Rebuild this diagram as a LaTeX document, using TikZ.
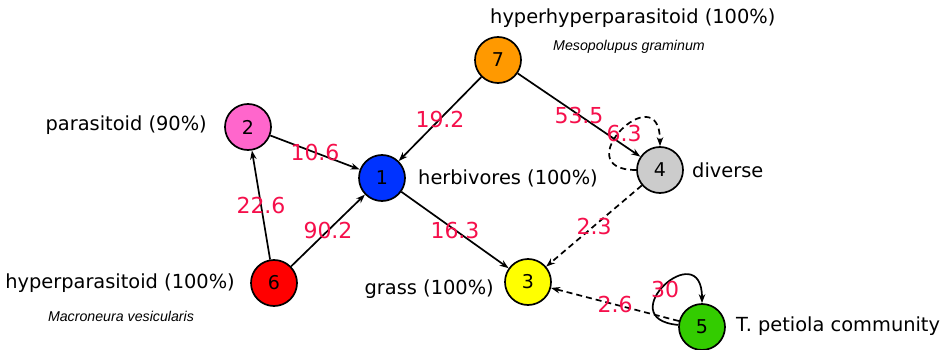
\documentclass[tikz,border=0pt]{standalone}
\usepackage{fontspec}
\setmainfont{DejaVu Sans}
\newfontfamily\latinname{Liberation Sans}
\usetikzlibrary{arrows.meta}
\definecolor{herbblue}{RGB}{0,51,255}
\definecolor{parapink}{RGB}{255,102,204}
\definecolor{grassyellow}{RGB}{255,255,0}
\definecolor{diversegray}{RGB}{204,204,204}
\definecolor{petiolagreen}{RGB}{51,204,0}
\definecolor{hyperred}{RGB}{255,0,0}
\definecolor{hhorange}{RGB}{255,153,0}
\definecolor{wtred}{RGB}{245,15,75}
\begin{document}
\begin{tikzpicture}[x=1pt, y=1pt,
  sp/.style={circle, draw=black, line width=1.7pt, minimum size=46pt, inner sep=0pt, font=\fontsize{19}{20}\selectfont},
  spname/.style={font=\fontsize{19.4}{21}\selectfont, inner sep=0pt},
  latin/.style={font=\latinname\itshape\fontsize{14.2}{16}\selectfont, inner sep=0pt},
  wt/.style={text=wtred, font=\fontsize{22}{24}\selectfont, inner sep=0pt},
  link/.style={line width=1.7pt, -{Stealth[length=9pt, width=6.5pt]}},
  weak/.style={link, dash pattern=on 6pt off 4pt}]
\useasboundingbox (0, 0) rectangle (947, -350);

\node (n1) at (382, -178) [sp, fill=herbblue] {1};
\node (n2) at (248, -127) [sp, fill=parapink] {2};
\node (n3) at (528, -282) [sp, fill=grassyellow] {3};
\node (n4) at (660, -170) [sp, fill=diversegray] {4};
\node (n5) at (702, -327) [sp, fill=petiolagreen] {5};
\node (n6) at (274, -283) [sp, fill=hyperred] {6};
\node (n7) at (498, -60) [sp, fill=hhorange] {7};

\node (t1) at (418, -178) [spname, anchor=west] {herbivores (100\%)};
\node (t2) at (207, -125) [spname, anchor=east] {parasitoid (90\%)};
\node (t3) at (494, -289) [spname, anchor=east] {grass (100\%)};
\node (t4) at (692, -170) [spname, anchor=west] {diverse};
\node (t5) at (736, -326) [spname, anchor=west] {T. petiola community};
\node (t6) at (235, -283) [spname, anchor=east] {hyperparasitoid (100\%)};
\node (t7) at (490, -18) [spname, anchor=west] {hyperhyperparasitoid (100\%)};
\node (s6) at (121, -316) [latin] {Macroneura vesicularis};
\node (s7) at (629, -47) [latin] {Mesopolupus graminum};

\draw[link] (n2) to node[wt] (w21) {10.6} (n1);
\draw[link] (n7) to node[wt] (w71) {19.2} (n1);
\draw[link] (n7) to node[wt] (w74) {53.5} (n4);
\draw[link] (n6) to node[wt] (w62) {22.6} (n2);
\draw[link] (n6) to node[wt] (w61) {90.2} (n1);
\draw[link] (n1) to node[wt] (w13) {16.3} (n3);
\draw[weak] (n4) to node[wt] (w43) {2.3} (n3);
\draw[weak] (n5) to node[wt] (w53) {2.6} (n3);
\draw[weak] (n4) to[out=180, in=90, looseness=5.5] (n4);
\draw[link] (n5) to[out=175, in=90, looseness=5.5] (n5);
\node (w44) at (624, -133) [wt] {6.3};
\node (w55) at (665, -289) [wt] {30};
\end{tikzpicture}
\end{document}
